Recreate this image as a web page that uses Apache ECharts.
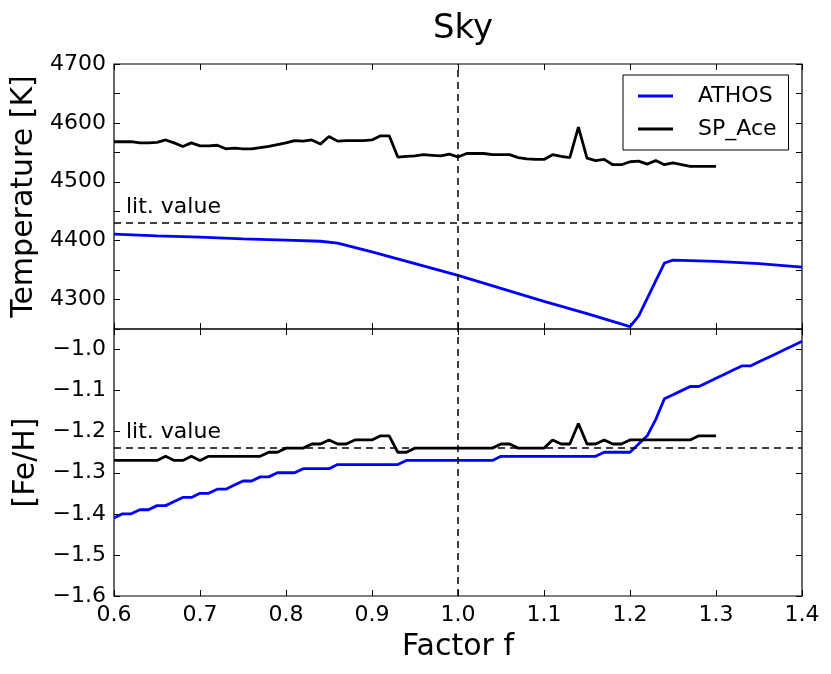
<!DOCTYPE html>
<html lang="en">

<head>
    <meta charset="UTF-8">
    <title>Sky - ATHOS vs SP_Ace</title>
    <style>
        html, body { margin: 0; padding: 0; background: #fff; }
        #main { width: 831px; height: 674px; }
    </style>
</head>

<body>
    <div id="main"></div>
    <script src="https://cdn.jsdelivr.net/npm/echarts@6/dist/echarts.min.js"></script>
    <script type="text/javascript">
        // factor grid for SP_Ace (0.60 .. 1.30)
        var factorSp = [0.60, 0.61, 0.62, 0.63, 0.64, 0.65, 0.66, 0.67, 0.68, 0.69,
            0.70, 0.71, 0.72, 0.73, 0.74, 0.75, 0.76, 0.77, 0.78, 0.79,
            0.80, 0.81, 0.82, 0.83, 0.84, 0.85, 0.86, 0.87, 0.88, 0.89,
            0.90, 0.91, 0.92, 0.93, 0.94, 0.95, 0.96, 0.97, 0.98, 0.99,
            1.00, 1.01, 1.02, 1.03, 1.04, 1.05, 1.06, 1.07, 1.08, 1.09,
            1.10, 1.11, 1.12, 1.13, 1.14, 1.15, 1.16, 1.17, 1.18, 1.19,
            1.20, 1.21, 1.22, 1.23, 1.24, 1.25, 1.26, 1.27, 1.28, 1.29, 1.30]
        // factor grid for ATHOS [Fe/H] (0.60 .. 1.40)
        var factorAthos = factorSp.concat([1.31, 1.32, 1.33, 1.34, 1.35, 1.36, 1.37, 1.38, 1.39, 1.40])

        var spTeff = [4568, 4568, 4568, 4566, 4566, 4567, 4571, 4566, 4560, 4566,
            4561, 4561, 4562, 4556, 4557, 4556, 4556, 4558, 4560, 4563,
            4566, 4570, 4569, 4571, 4564, 4577, 4569, 4570, 4570, 4570,
            4571, 4578, 4578, 4542, 4543, 4544, 4546, 4545, 4544, 4547,
            4542, 4548, 4548, 4548, 4546, 4546, 4546, 4541, 4539, 4538,
            4538, 4546, 4543, 4541, 4593, 4540, 4536, 4538, 4529, 4529,
            4534, 4535, 4530, 4536, 4529, 4532, 4529, 4526, 4526, 4526, 4526]

        var spFeH = [-1.27, -1.27, -1.27, -1.27, -1.27, -1.27, -1.26, -1.27, -1.27, -1.26,
            -1.27, -1.26, -1.26, -1.26, -1.26, -1.26, -1.26, -1.26, -1.25, -1.25,
            -1.24, -1.24, -1.24, -1.23, -1.23, -1.22, -1.23, -1.23, -1.22, -1.22,
            -1.22, -1.21, -1.21, -1.25, -1.25, -1.24, -1.24, -1.24, -1.24, -1.24,
            -1.24, -1.24, -1.24, -1.24, -1.24, -1.23, -1.23, -1.24, -1.24, -1.24,
            -1.24, -1.22, -1.23, -1.23, -1.18, -1.23, -1.23, -1.22, -1.23, -1.23,
            -1.22, -1.22, -1.22, -1.22, -1.22, -1.22, -1.22, -1.22, -1.21, -1.21, -1.21]

        var athosFeH = [-1.41, -1.40, -1.40, -1.39, -1.39, -1.38, -1.38, -1.37, -1.36, -1.36,
            -1.35, -1.35, -1.34, -1.34, -1.33, -1.32, -1.32, -1.31, -1.31, -1.30,
            -1.30, -1.30, -1.29, -1.29, -1.29, -1.29, -1.28, -1.28, -1.28, -1.28,
            -1.28, -1.28, -1.28, -1.28, -1.27, -1.27, -1.27, -1.27, -1.27, -1.27,
            -1.27, -1.27, -1.27, -1.27, -1.27, -1.26, -1.26, -1.26, -1.26, -1.26,
            -1.26, -1.26, -1.26, -1.26, -1.26, -1.26, -1.26, -1.25, -1.25, -1.25,
            -1.25, -1.23, -1.21, -1.17, -1.12, -1.11, -1.10, -1.09, -1.09, -1.08,
            -1.07, -1.06, -1.05, -1.04, -1.04, -1.03, -1.02, -1.01, -1.00, -0.99, -0.98]

        // ATHOS Teff, read at the visible bends of the curve
        var athosTeffFactor = [0.60, 0.65, 0.70, 0.75, 0.80, 0.84, 0.86, 0.90, 0.95, 1.00,
            1.05, 1.10, 1.15, 1.20, 1.21, 1.24, 1.25, 1.30, 1.35, 1.40]
        var athosTeff = [4411, 4408, 4406, 4403, 4401, 4399, 4396, 4381, 4361, 4341,
            4319, 4297, 4276, 4254, 4272, 4362, 4367, 4365, 4361, 4355]

        var litTeff = 4430
        var litFeH = -1.24
        var refFactor = 1.0

        var FONT = 'DejaVu Sans'
        var pairs = (xs, ys) => ys.map((y, i) => [xs[i], y])

        var chart = echarts.init(document.getElementById('main'), null, { renderer: 'canvas' })

        var tickStyle = { show: true, inside: true, length: 6, lineStyle: { color: '#000', width: 1 } }
        var dashStyle = { color: '#000', width: 1.5, type: [7, 5] }

        function xAx(grid, pos, labels) {
            return {
                type: 'value', gridIndex: grid, position: pos, min: 0.6, max: 1.4, interval: 0.1,
                axisLine: { show: false }, axisTick: tickStyle, splitLine: { show: false },
                axisLabel: {
                    show: labels, fontFamily: FONT, fontSize: 22, color: '#000', margin: 8,
                    formatter: v => v.toFixed(1)
                },
                name: labels ? 'Factor f' : '', nameLocation: 'middle', nameGap: 36,
                nameTextStyle: { fontFamily: FONT, fontSize: 30, color: '#000' }
            }
        }

        function lit(yVal) {
            return {
                silent: true, symbol: ['none', 'none'], lineStyle: dashStyle,
                data: [
                    {
                        yAxis: yVal,
                        label: {
                            show: true, position: 'insideStartTop', formatter: 'lit. value',
                            fontFamily: FONT, fontSize: 22, color: '#000', distance: [12, 5]
                        }
                    },
                    { xAxis: refFactor, label: { show: false } }
                ]
            }
        }

        var option = {
            animation: false,
            backgroundColor: '#fff',
            title: {
                text: 'Sky', left: 458, top: 7, textAlign: 'center',
                textStyle: { fontFamily: FONT, fontSize: 34, fontWeight: 'normal', color: '#000' }
            },
            legend: {
                data: ['ATHOS', 'SP_Ace'], orient: 'vertical', left: 623, top: 75,
                icon: 'rect', itemWidth: 35, itemHeight: 3, itemGap: 11,
                padding: [10, 12, 10, 15], borderColor: '#000', borderWidth: 1, backgroundColor: '#fff',
                textStyle: { fontFamily: FONT, fontSize: 22, color: '#000', padding: [0, 0, 0, 20] }
            },
            grid: [
                { left: 114, right: 29, top: 64, height: 265, show: true, borderColor: '#000', borderWidth: 1.2, backgroundColor: 'transparent' },
                { left: 114, right: 29, top: 329, height: 267, show: true, borderColor: '#000', borderWidth: 1.2, backgroundColor: 'transparent' }
            ],
            xAxis: [
                xAx(0, 'bottom', false), xAx(0, 'top', false),
                xAx(1, 'bottom', true), xAx(1, 'top', false)
            ],
            yAxis: [
                {
                    type: 'value', gridIndex: 0, position: 'left', min: 4250, max: 4700, interval: 50,
                    axisLine: { show: false }, axisTick: tickStyle, splitLine: { show: false },
                    axisLabel: {
                        fontFamily: FONT, fontSize: 22, color: '#000', margin: 8,
                        formatter: v => (v % 100 === 0 ? String(v) : '')
                    },
                    name: 'Temperature [K]', nameLocation: 'middle', nameGap: 64,
                    nameTextStyle: { fontFamily: FONT, fontSize: 30, color: '#000' }
                },
                {
                    type: 'value', gridIndex: 0, position: 'right', min: 4250, max: 4700, interval: 50,
                    axisLine: { show: false }, axisTick: tickStyle, splitLine: { show: false },
                    axisLabel: { show: false }
                },
                {
                    type: 'value', gridIndex: 1, position: 'left', min: -1.6, max: -0.95, interval: 0.1,
                    axisLine: { show: false }, axisTick: tickStyle, splitLine: { show: false },
                    axisLabel: {
                        fontFamily: FONT, fontSize: 22, color: '#000', margin: 8,
                        formatter: v => (Math.abs(v * 10 - Math.round(v * 10)) < 1e-6 ? v.toFixed(1).replace('-', '\u2212') : '')
                    },
                    name: '[Fe/H]', nameLocation: 'middle', nameGap: 64,
                    nameTextStyle: { fontFamily: FONT, fontSize: 30, color: '#000' }
                },
                {
                    type: 'value', gridIndex: 1, position: 'right', min: -1.6, max: -0.95, interval: 0.1,
                    axisLine: { show: false }, axisTick: tickStyle, splitLine: { show: false },
                    axisLabel: { show: false }
                }
            ],
            series: [
                {
                    name: 'ATHOS', type: 'line', xAxisIndex: 0, yAxisIndex: 0, symbol: 'none',
                    lineStyle: { color: '#0000ff', width: 2.8 }, itemStyle: { color: '#0000ff' },
                    data: pairs(athosTeffFactor, athosTeff)
                },
                {
                    name: 'SP_Ace', type: 'line', xAxisIndex: 0, yAxisIndex: 0, symbol: 'none',
                    lineStyle: { color: '#000', width: 2.8 }, itemStyle: { color: '#000' },
                    data: pairs(factorSp, spTeff),
                    markLine: lit(litTeff)
                },
                {
                    name: 'ATHOS', type: 'line', xAxisIndex: 2, yAxisIndex: 2, symbol: 'none',
                    lineStyle: { color: '#0000ff', width: 2.8 }, itemStyle: { color: '#0000ff' },
                    data: pairs(factorAthos, athosFeH)
                },
                {
                    name: 'SP_Ace', type: 'line', xAxisIndex: 2, yAxisIndex: 2, symbol: 'none',
                    lineStyle: { color: '#000', width: 2.8 }, itemStyle: { color: '#000' },
                    data: pairs(factorSp, spFeH),
                    markLine: lit(litFeH)
                }
            ]
        }
        chart.setOption(option)
    </script>
</body>

</html>
